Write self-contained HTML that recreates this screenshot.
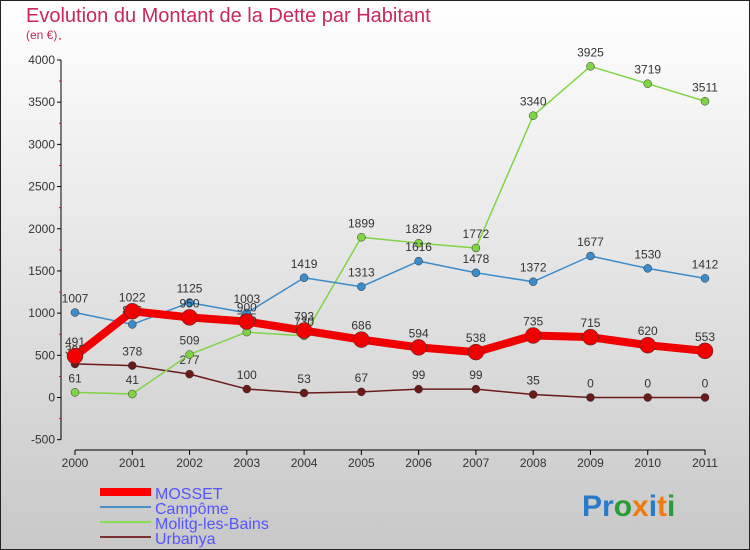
<!DOCTYPE html>
<html><head><meta charset="utf-8"><style>
body{margin:0}
#c{width:750px;height:550px;position:relative;overflow:hidden;font-family:"Liberation Sans",sans-serif}
</style></head><body>
<div id="c">
<svg width="750" height="550" id="svg">
<defs><linearGradient id="bg" x1="0" y1="0" x2="0" y2="1"><stop offset="0" stop-color="#ffffff"/><stop offset="1" stop-color="#c8c8c8"/></linearGradient></defs>
<rect x="0.5" y="0.5" width="749" height="549" fill="url(#bg)" stroke="#222"/>
<text x="26" y="22" font-size="20" fill="#c8285a">Evolution du Montant de la Dette par Habitant</text>
<text x="26" y="39" font-size="12" fill="#c8285a">(en €)</text>
<g id="axes"></g><g id="series"></g>
<g>
<line x1="100" y1="492" x2="151" y2="492" stroke="#f00" stroke-width="8"/>
<text x="155" y="499" font-size="16" fill="#5555ff">MOSSET</text>
<line x1="100" y1="507" x2="151" y2="507" stroke="#4a90c8" stroke-width="2"/>
<text x="155" y="514" font-size="16" fill="#5555ff">Campôme</text>
<line x1="100" y1="522" x2="151" y2="522" stroke="#88dd55" stroke-width="2"/>
<text x="155" y="529" font-size="16" fill="#5555ff">Molitg-les-Bains</text>
<line x1="100" y1="537" x2="151" y2="537" stroke="#7a3030" stroke-width="2"/>
<text x="155" y="544" font-size="16" fill="#5555ff">Urbanya</text>
</g>
<text x="582" y="516" font-size="30" font-weight="bold"><tspan fill="#2a7acc">Pr</tspan><tspan fill="#2a9a3a">o</tspan><tspan fill="#f07a10">x</tspan><tspan fill="#2a7acc">i</tspan><tspan fill="#f07a10">t</tspan><tspan fill="#2a9a3a">i</tspan></text>
</svg>
</div>
<script>
const years=["2000","2001","2002","2003","2004","2005","2006","2007","2008","2009","2010","2011"];
const yTicks=[-500,0,500,1000,1500,2000,2500,3000,3500,4000];
const mosset=[491,1022,950,900,793,686,594,538,735,715,620,553];
const campome=[1007,866,1125,1003,1419,1313,1616,1478,1372,1677,1530,1412];
const molitg=[61,41,509,775,730,1899,1829,1772,3340,3925,3719,3511];
const urbanya=[398,378,277,100,53,67,99,99,35,0,0,0];
const NS="http://www.w3.org/2000/svg";
function X(i){return 75+i*(705-75)/(years.length-1);}
function Y(v){return 397.5-v*(397.5-60)/4000;}
function mk(t,a,p){const e=document.createElementNS(NS,t);for(const k in a)e.setAttribute(k,a[k]);p.appendChild(e);return e;}
const ax=document.getElementById('axes');
const yl=mk('line',{x1:61,y1:Y(4000),x2:61,y2:Y(-500),stroke:'#000','stroke-width':1},ax);


yTicks.forEach(v=>{
 const t=mk('line',{x1:57,y1:Y(v),x2:61,y2:Y(v),stroke:'#000'},ax);
 
 
 const m=mk('line',{x1:59,y1:Y(v+250),x2:61,y2:Y(v+250),stroke:'#e00'},ax);
 
 
 const l=mk('text',{x:55,y:Y(v)+4,'font-size':12,fill:'#333','text-anchor':'end'},ax);
 l.textContent=v;
 
 
});
const xl=mk('line',{x1:X(0),y1:450,x2:X(11),y2:450,stroke:'#000'},ax);


years.forEach((y,i)=>{
 const t=mk('line',{x1:X(i),y1:450,x2:X(i),y2:455,stroke:'#000'},ax);
 
 
 const l=mk('text',{x:X(i),y:467,'font-size':12,fill:'#333','text-anchor':'middle'},ax);
 l.textContent=y;
 
 
});
const sg=document.getElementById('series');
function series(name,data,color,w,r){
 const g=mk('g',{},sg);
 
 
 const p=mk('polyline',{points:data.map((v,i)=>X(i)+','+Y(v)).join(' '),fill:'none',stroke:color,'stroke-width':w,'stroke-linejoin':'round'},g);
 
 
 data.forEach((v,i)=>{
  const c=mk('circle',{cx:X(i),cy:Y(v),r:r,fill:color,stroke:'#333','stroke-width':0.5},g);
  
  
  const t=mk('text',{x:X(i),y:Y(v)-10,'font-size':12,fill:'#333','text-anchor':'middle'},g);
  t.textContent=v;
  
  
 });
}
series('urbanya',urbanya,'#6b1a1a',1.5,4);
series('molitg',molitg,'#7fd444',1.5,4);
series('campome',campome,'#3a8ccc',1.5,4);
series('mosset',mosset,'#f00000',8,8);
</script>
</body></html>
